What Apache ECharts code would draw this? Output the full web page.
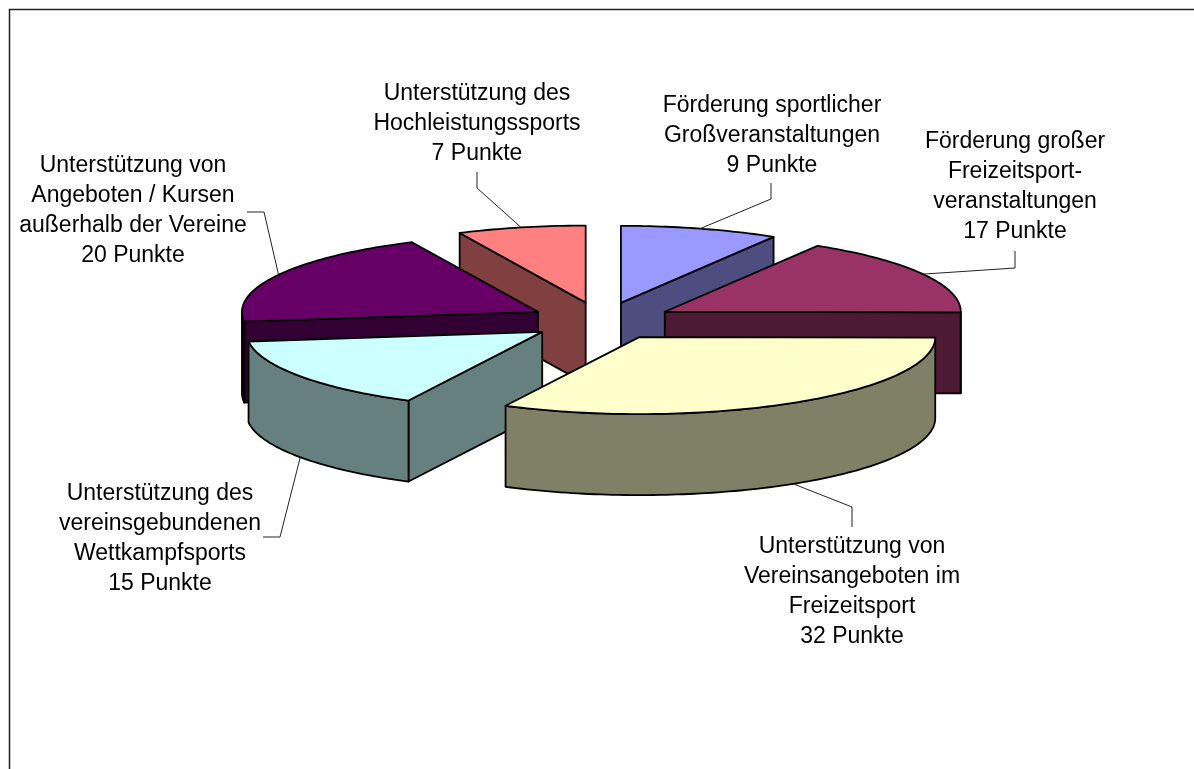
<!DOCTYPE html>
<html>
<head>
<meta charset="utf-8">
<title>Punkte</title>
<script src="https://cdn.jsdelivr.net/npm/echarts@6/dist/echarts.min.js"></script>
<style>
html, body { margin: 0; padding: 0; background: #fff; overflow: hidden; }
#chart { width: 1194px; height: 769px; }
</style>
</head>
<body>
<div id="chart"></div>
<script>
// Daten, im Uhrzeigersinn ab 12 Uhr
var categories = [
    'Förderung sportlicher\nGroßveranstaltungen',
    'Förderung großer\nFreizeitsport-\nveranstaltungen',
    'Unterstützung von\nVereinsangeboten im\nFreizeitsport',
    'Unterstützung des\nvereinsgebundenen\nWettkampfsports',
    'Unterstützung von\nAngeboten / Kursen\naußerhalb der Vereine',
    'Unterstützung des\nHochleistungssports'
];
var values = [9, 17, 32, 15, 20, 7];
var unit = 'Punkte';

var topColors = ['#9999FF', '#993366', '#FFFFCC', '#CCFFFF', '#660066', '#FF8080'];
var wallColors = ['#4D4D80', '#4D1A33', '#808066', '#668080', '#330033', '#804040'];

// Zeichenreihenfolge, hinten nach vorne
var drawOrder = [0, 5, 1, 4, 3, 2];

// Geometrie der Torte
var cx = 601.5, cy = 321;
var rx = 296, ry = 77;
var depth = 81;
var explode = 0.245;
var skew = 3.5 * Math.PI / 180;

// Beschriftung: Textmitte und Knick der Führungslinie
var labelCenters = [[772, 136], [1015, 187], [852, 592], [160, 539], [133, 211], [477, 124]];
var leaderKnees = [
    [[771, 199], [771, 183]],
    [[1015, 268], [1015, 251]],
    [[852, 507], [852, 527]],
    [[280, 537], [263, 537]],
    [[264, 212], [247, 212]],
    [[477, 188], [477, 172]]
];

var total = values.reduce(function (a, b) { return a + b; }, 0);

// Die Projektion staucht die rechte Seite der Torte etwas
function viewAngle(t) {
    return t - skew * Math.max(0, Math.sin(0.7 * t));
}

function sliceAngles(i) {
    var before = 0;
    for (var k = 0; k < i; k++) before += values[k];
    return [viewAngle(before / total * 2 * Math.PI), viewAngle((before + values[i]) / total * 2 * Math.PI)];
}

function renderSlice(params, api) {
    var idx = api.value(0);
    var a = sliceAngles(idx);
    var mid = (a[0] + a[1]) / 2;
    // Spitze des herausgezogenen Stücks
    var ax = cx + explode * rx * Math.sin(mid);
    var ay = cy - explode * ry * Math.cos(mid);
    function pt(t, down) {
        return [ax + rx * Math.sin(t), ay - ry * Math.cos(t) + (down || 0)];
    }
    function arc(from, to, down) {
        var pts = [];
        var n = Math.max(2, Math.ceil(Math.abs(to - from) / 0.02));
        for (var j = 0; j <= n; j++) pts.push(pt(from + (to - from) * j / n, down));
        return pts;
    }
    var edge = { stroke: '#000', lineWidth: 1.8, lineJoin: 'round' };
    function poly(points, fill) {
        return { type: 'polygon', shape: { points: points }, style: Object.assign({ fill: fill }, edge) };
    }
    var children = [];
    var wall = wallColors[idx];
    // Schnittflächen, nur wenn sie zum Betrachter zeigen
    if (Math.cos(a[0] - Math.PI / 2) < -0.001) {
        children.push(poly([[ax, ay], pt(a[0]), pt(a[0], depth), [ax, ay + depth]], wall));
    }
    if (Math.cos(a[1] + Math.PI / 2) < -0.001) {
        children.push(poly([[ax, ay], pt(a[1]), pt(a[1], depth), [ax, ay + depth]], wall));
    }
    // Außenwand, nur der vordere Teil des Bogens
    var f0 = Math.max(a[0], Math.PI / 2), f1 = Math.min(a[1], 1.5 * Math.PI);
    if (f1 > f0) {
        children.push(poly(arc(f0, f1, 0).concat(arc(f1, f0, depth)), wall));
    }
    // Oberseite
    children.push(poly([[ax, ay]].concat(arc(a[0], a[1], 0)), topColors[idx]));
    return { type: 'group', children: children };
}

function renderLabel(params, api) {
    var idx = api.value(0);
    var a = sliceAngles(idx);
    var mid = (a[0] + a[1]) / 2;
    var ax = cx + explode * rx * Math.sin(mid);
    var ay = cy - explode * ry * Math.cos(mid);
    var sx = ax + rx * Math.sin(mid);
    var sy = ay - ry * Math.cos(mid);
    // Vordere Stücke: Linie setzt an der Unterkante an
    if (Math.cos(mid) < 0) sy += depth;
    var c = labelCenters[idx];
    return {
        type: 'group',
        children: [{
            type: 'polyline',
            shape: { points: [[sx, sy]].concat(leaderKnees[idx]) },
            style: { stroke: '#222', lineWidth: 1, fill: null }
        }, {
            type: 'text',
            style: {
                x: c[0], y: c[1],
                text: categories[idx] + '\n' + values[idx] + ' ' + unit,
                align: 'center', verticalAlign: 'middle',
                font: '23px "Liberation Sans", Arial, sans-serif',
                lineHeight: 30,
                fill: '#000'
            }
        }]
    };
}

var chart = echarts.init(document.getElementById('chart'), null, { renderer: 'canvas' });
chart.setOption({
    animation: false,
    backgroundColor: '#fff',
    graphic: [{
        type: 'polyline',
        shape: { points: [[9.5, 769], [9.5, 9.5], [1194, 9.5]] },
        style: { stroke: '#222', lineWidth: 1.5, fill: null },
        silent: true
    }],
    series: [{
        type: 'custom',
        coordinateSystem: 'none',
        renderItem: renderSlice,
        data: drawOrder.map(function (i) { return [i, values[i]]; }),
        silent: true
    }, {
        type: 'custom',
        coordinateSystem: 'none',
        renderItem: renderLabel,
        data: values.map(function (v, i) { return [i, v]; }),
        silent: true
    }]
});
</script>
</body>
</html>
